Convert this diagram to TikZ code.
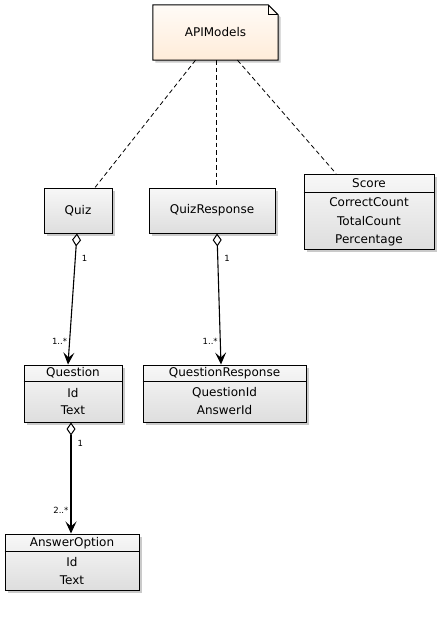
\documentclass[tikz,border=0pt]{standalone}
\usepackage{fontspec}
\setmainfont{DejaVu Sans}
\usetikzlibrary{arrows.meta,shadows,calc}
\begin{document}
\begin{tikzpicture}[x=1pt,y=-1pt,
  shadowed/.style={drop shadow={shadow xshift=2.5pt,shadow yshift=-2.5pt,opacity=0.35,fill=black!60}},
  cls/.style={draw=black,line width=1pt,top color=black!3,bottom color=black!13,shadowed,inner sep=0pt},
  lbl/.style={font=\fontsize{12}{14}\selectfont,inner sep=0pt,anchor=center},
  mult/.style={font=\fontsize{8.5}{10}\selectfont,inner sep=0pt},
  dep/.style={dash pattern=on 4.5pt off 3pt,line width=0.8pt},
  agg/.style={line width=1.1pt,{Diamond[open,length=13pt,width=9pt,line width=1pt]}-{Stealth[length=12pt,width=11pt,inset=5pt]}}
]
\useasboundingbox (0,0) rectangle (437,633);

% APIModels note
\node[inner sep=0pt,minimum width=125pt,minimum height=55pt] (api) at (215.5,32.5) {};
\path[draw=black,line width=1pt,top color=white!60!orange!8,bottom color=orange!15,shadowed]
  (api.north west) -- ([xshift=-10pt]api.north east) -- ([yshift=-10pt]api.north east)
  -- (api.south east) -- (api.south west) -- cycle;
\draw[line width=0.8pt] ([xshift=-10pt]api.north east) -- ([xshift=-10pt,yshift=-10pt]api.north east) -- ([yshift=-10pt]api.north east);
\node[lbl] (apit) at (api.center) {APIModels};

% Quiz
\node[cls,minimum width=68pt,minimum height=45pt] (quiz) at (78,210.5) {};
\node[lbl] (quizt) at (quiz.center) {Quiz};

% QuizResponse
\node[cls,minimum width=126pt,minimum height=45pt] (qr) at (212,210.5) {};
\node[lbl] (qrt) at (qr.center) {QuizResponse};

% Score
\node[cls,minimum width=130pt,minimum height=75pt] (score) at (369,211.5) {};
\draw[line width=0.8pt] (score.west |- 0,192) -- (score.east |- 0,192);
\node[lbl] (scoreh) at (369,183) {Score};
\node[lbl] (score1) at (369,202) {CorrectCount};
\node[lbl] (score2) at (369,221) {TotalCount};
\node[lbl] (score3) at (369,240) {Percentage};

% Question
\node[cls,minimum width=98pt,minimum height=57pt] (question) at (73,393.5) {};
\draw[line width=0.8pt] (question.west |- 0,381) -- (question.east |- 0,381);
\node[lbl] (questionh) at (73,373) {Question};
\node[lbl] (question1) at (73,393) {Id};
\node[lbl] (question2) at (73,410) {Text};

% QuestionResponse
\node[cls,minimum width=163pt,minimum height=57pt] (qresp) at (224.5,393.5) {};
\draw[line width=0.8pt] (qresp.west |- 0,381) -- (qresp.east |- 0,381);
\node[lbl] (qresph) at (224.5,373) {QuestionResponse};
\node[lbl] (qresp1) at (224.5,393) {QuestionId};
\node[lbl] (qresp2) at (224.5,410) {AnswerId};

% AnswerOption
\node[cls,minimum width=134pt,minimum height=56pt] (ans) at (72,562) {};
\draw[line width=0.8pt] (ans.west |- 0,551) -- (ans.east |- 0,551);
\node[lbl] (ansh) at (72,543) {AnswerOption};
\node[lbl] (ans1) at (72,562) {Id};
\node[lbl] (ans2) at (72,580) {Text};

% dependencies
\draw[dep] ([xshift=-20pt]api.south) -- ([xshift=17pt]quiz.north);
\draw[dep] ([xshift=0.5pt]api.south) -- ([xshift=4pt]qr.north);
\draw[dep] ([xshift=22pt]api.south) -- ([xshift=-33pt]score.north);

% aggregations
\draw[agg] ([xshift=-1pt]quiz.south) -- ([xshift=-5pt]question.north)
  node[mult,pos=0.19,right=6pt] (m1) {1}
  node[mult,pos=0.82,left=2pt] (m2) {1..*};
\draw[agg] ([xshift=5pt]qr.south) -- ([xshift=-3.5pt]qresp.north)
  node[mult,pos=0.19,right=6pt] (m3) {1}
  node[mult,pos=0.82,left=2pt] (m4) {1..*};
\draw[agg] ([xshift=-2pt]question.south) -- ([xshift=-1pt]ans.north)
  node[mult,pos=0.19,right=6pt] (m5) {1}
  node[mult,pos=0.79,left=2pt] (m6) {2..*};
\end{tikzpicture}
\end{document}
